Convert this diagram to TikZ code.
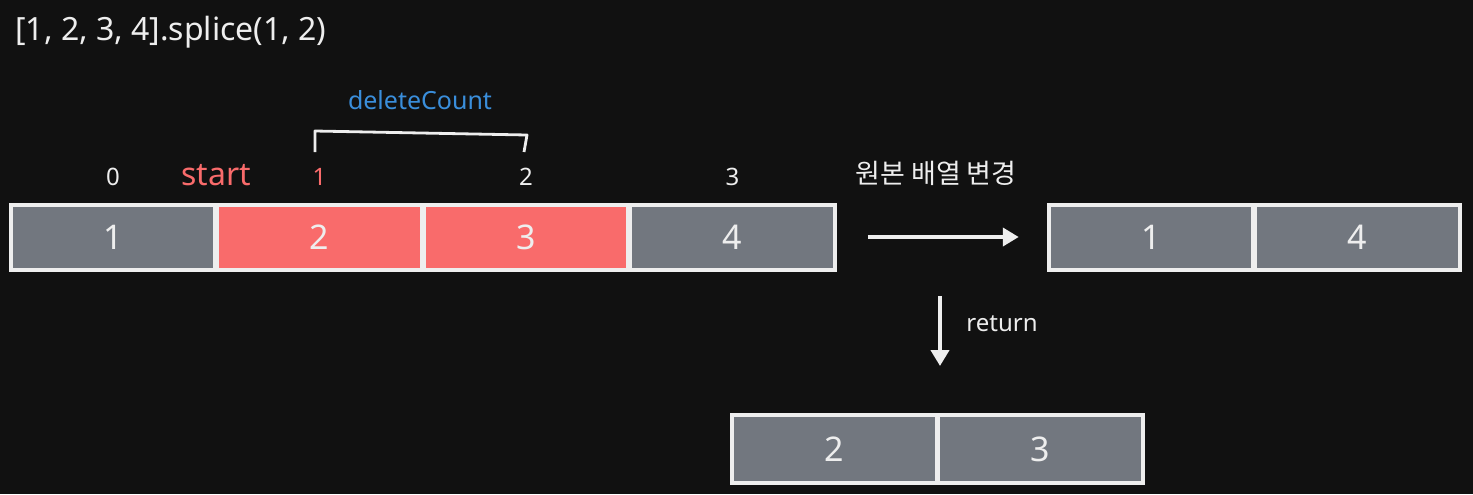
\documentclass[tikz,border=0pt]{standalone}
\usepackage{fontspec}
\setmainfont{Noto Sans}
\newfontfamily\krfont{Noto Sans CJK KR}
\usetikzlibrary{arrows.meta}
\definecolor{bgdark}{HTML}{111111}
\definecolor{cellgray}{HTML}{72777F}
\definecolor{cellred}{HTML}{F96B6B}
\definecolor{edge}{HTML}{EEEEEE}
\definecolor{txtred}{HTML}{F96B6B}
\definecolor{txtblue}{HTML}{3A8EDB}
\begin{document}
\begin{tikzpicture}
    [   x=0.5pt,y=-0.5pt,
        cell/.style={draw=edge,line width=2pt,fill=#1,minimum width=102.25pt,minimum height=32.5pt,
                     inner sep=0pt,text=edge,font=\fontsize{17}{20}\selectfont},
        idx/.style={text=#1,inner sep=0pt,font=\fontsize{12}{14}\selectfont},
        lbl/.style={text=edge,inner sep=0pt,font=\fontsize{12}{14}\selectfont},
        flow/.style={draw=edge,line width=2pt,-{Triangle[length=8pt,width=9pt]}},
    ]
        \fill[bgdark] (0,0) rectangle (1473,494);
        \node[lbl,anchor=base west,font=\fontsize{16}{19}\selectfont] (title) at (15,40) {[1, 2, 3, 4].splice(1, 2)};
        % original array
        \foreach \v/\c [count=\i from 0] in {1/cellgray,2/cellred,3/cellred,4/cellgray}
        {   \node[cell=\c] (a-\i) at ({113+206.5*\i},237) {\v};
        }
        \foreach \c [count=\i from 0] in {edge,txtred,edge,edge}
        {   \node[idx=\c] (i-\i) at ({113+206.5*\i},177) {\i};
        }
        \node[idx=txtred,font=\fontsize{16}{19}\selectfont] (start) at (216,175) {start};
        \node[idx=txtblue,font=\fontsize{12.5}{15}\selectfont] (dc) at (420,100) {deleteCount};
        \draw[edge,line width=1.4pt,line join=round] (315,152) -- (315,131) -- (527,135) -- (524,152);
        % changed original
        \foreach \v [count=\i from 0] in {1,4}
        {   \node[cell=cellgray] (r-\i) at ({1151+206.5*\i},237) {\v};
        }
        \draw[flow,shorten <=15.5pt,shorten >=14pt] (a-3.east) -- (r-0.west);
        \node[lbl,font=\krfont\fontsize{13.5}{16}\selectfont] (chg) at (936,173) {원본 배열 변경};
        % returned
        \foreach \v [count=\i from 0] in {2,3}
        {   \node[cell=cellgray,minimum height=34pt] (s-\i) at ({834.5+206*\i},449) {\v};
        }
        \coordinate (ret-s) at (940,296);
        \coordinate (ret-e) at (940,366);
        \draw[flow] (ret-s) -- (ret-e);
        \node[lbl] (ret) at (1002,324) {return};
\end{tikzpicture}
\end{document}
